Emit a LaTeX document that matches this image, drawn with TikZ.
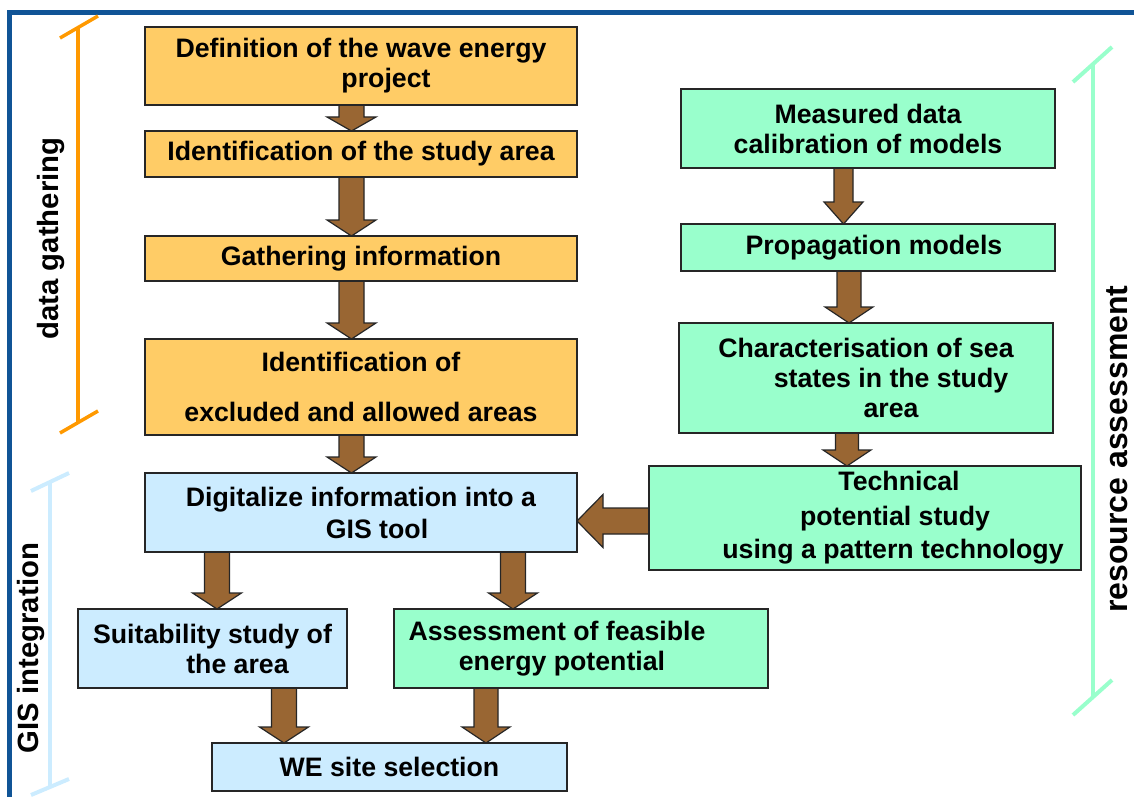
\documentclass[tikz,border=0pt]{standalone}
\usepackage{fontspec}
\setmainfont{Liberation Sans}
\usetikzlibrary{positioning,calc,backgrounds}

\definecolor{boxorange}{HTML}{FFCC66}
\definecolor{boxgreen}{HTML}{99FFCC}
\definecolor{boxblue}{HTML}{CCECFF}
\definecolor{arrowbrown}{HTML}{996633}
\definecolor{frameblue}{HTML}{105496}
\definecolor{bracketorange}{HTML}{FF9900}

% block arrow pointing down: [head length]{from}{to}{half shaft}{half head}
\newcommand{\fatdown}[5][16]{%
  \filldraw[fatarrow] ($(#2)+(-#4,0)$) -- ($(#3)+(-#4,#1)$) -- ($(#3)+(-#5,#1)$) -- (#3)
    -- ($(#3)+(#5,#1)$) -- ($(#3)+(#4,#1)$) -- ($(#2)+(#4,0)$);}

\begin{document}
\begin{tikzpicture}[
  x=1pt, y=1pt,
  box/.style={
    draw=black!85, line width=1.2pt, align=center, inner sep=2pt, outer sep=0pt,
    font=\fontsize{26.7}{30}\selectfont\bfseries
  },
  obox/.style={box, fill=boxorange, minimum width=432pt},
  gbox/.style={box, fill=boxgreen},
  bbox/.style={box, fill=boxblue},
  fatarrow/.style={fill=arrowbrown, draw=black!85, line width=1.2pt, line join=miter},
  bracket/.style={line width=4pt},
  sidelabel/.style={rotate=90, inner sep=0pt, font=\fontsize{29.3}{32}\selectfont\bfseries}
]
\useasboundingbox (0,0) rectangle (1134,-797);

% ---------- FRAME ----------
\draw[frameblue, line width=5pt] (9.7,-797) -- (9.7,-12.5) -- (1134,-12.5);

% ---------- DATA GATHERING ----------
\node[obox, minimum height=78pt] at (361,-66) (def) {Definition of the wave energy\\\hspace*{50pt}project};
\node[obox, minimum height=46pt, below=26pt of def]    (area)   {Identification of the study area};
\node[obox, minimum height=45pt, below=59pt of area]   (gather) {Gathering information};
\node[obox, minimum height=96pt, below=58pt of gather] (excl)   {Identification of\\[20pt]excluded and allowed areas};

% ---------- GIS INTEGRATION ----------
\node[bbox, minimum width=432pt, minimum height=79pt, below=38pt of excl] (digit)
  {Digitalize information into a\\[2pt]\hspace*{32pt}GIS tool};
\node[bbox, minimum width=269pt, minimum height=79pt,
      below right=57pt and -67pt of digit.south west, anchor=north west] (suit)
  {Suitability study of\\\hspace*{50pt}the area};
\node[gbox, minimum width=374pt, minimum height=79pt, right=47pt of suit] (assess)
  {Assessment of feasible\hspace*{48pt}\\energy potential\hspace*{38pt}};
\node[bbox, minimum width=355pt, minimum height=48pt,
      below right=55pt and 134pt of suit.south west, anchor=north west] (site)
  {WE site selection};

% ---------- RESOURCE ASSESSMENT ----------
\node[gbox, minimum width=374pt, minimum height=79pt] at (868,-128.5) (meas)
  {Measured data\\calibration of models};
\node[gbox, minimum width=374pt, minimum height=47pt, below=56pt of meas] (prop)
  {\hspace*{12pt}Propagation models};
\node[gbox, minimum width=374pt, minimum height=110pt, below=52pt of prop, xshift=-2pt] (charac)
  {Characterisation of sea\\\hspace*{50pt}states in the study\\\hspace*{50pt}area};
\node[gbox, minimum width=432pt, minimum height=104pt, below=33pt of charac, xshift=-1pt] (tech)
  {\hspace*{68pt}Technical\\[5pt]\hspace*{60pt}potential study\\[3pt]\hspace*{56pt}using a pattern technology};

% ---------- ARROWS ----------
\coordinate (lcol) at (351.5,0);
\coordinate (rcol) at (847,0);
\coordinate (hrow) at (0,-521);
\begin{scope}[on background layer]
  \fatdown[14]{def.south -| lcol}{area.north -| lcol}{12.5}{24.5}
  \fatdown{area.south -| lcol}{gather.north -| lcol}{12.5}{24.5}
  \fatdown{gather.south -| lcol}{excl.north -| lcol}{12.5}{24.5}
  \fatdown{excl.south -| lcol}{digit.north -| lcol}{12.5}{24.5}

  \fatdown[22]{meas.south -| 843.5,0}{prop.north -| 843.5,0}{9.5}{19.5}
  \fatdown{prop.south -| 849,0}{charac.north -| 849,0}{12}{24}
  \fatdown{charac.south -| rcol}{tech.north -| rcol}{11.5}{24}

  \fatdown{digit.south -| 217,0}{suit.north -| 217,0}{12.5}{24.5}
  \fatdown{digit.south -| 513,0}{assess.north -| 513,0}{12.5}{24.5}
  \fatdown{suit.south -| 284,0}{site.north -| 284,0}{12.5}{24.5}
  \fatdown{assess.south -| 486,0}{site.north -| 486,0}{12}{24}

  \filldraw[fatarrow] ($(tech.west |- hrow)+(0,13)$) -- ($(digit.east |- hrow)+(26,13)$)
    -- ($(digit.east |- hrow)+(26,26.5)$) -- (digit.east |- hrow)
    -- ($(digit.east |- hrow)+(26,-26.5)$) -- ($(digit.east |- hrow)+(26,-13)$)
    -- ($(tech.west |- hrow)+(0,-13)$);
\end{scope}

% ---------- BRACKETS ----------
\draw[bracket, bracketorange, line width=3.5pt] (78,-28) -- (78,-422);
\draw[bracket, bracketorange, line width=3.5pt] (60,-38) -- (98,-16);
\draw[bracket, bracketorange, line width=3.5pt] (60,-433) -- (98,-411);
\node[sidelabel] at (51,-238.5) (gatherlabel) {data gathering};

\draw[bracket, boxblue] (50,-482) -- (50,-787);
\draw[bracket, boxblue] (31,-491) -- (69,-473);
\draw[bracket, boxblue] (31,-795) -- (69,-779);
\node[sidelabel] at (31,-648) (gislabel) {GIS integration};

\draw[bracket, boxgreen] (1093,-63) -- (1093,-697);
\draw[bracket, boxgreen] (1073,-82) -- (1112,-47);
\draw[bracket, boxgreen] (1073,-715) -- (1112,-680);
\node[sidelabel, font=\fontsize{32}{34}\selectfont\bfseries] at (1117,-449) (reslabel) {resource assessment};

\end{tikzpicture}
\end{document}
